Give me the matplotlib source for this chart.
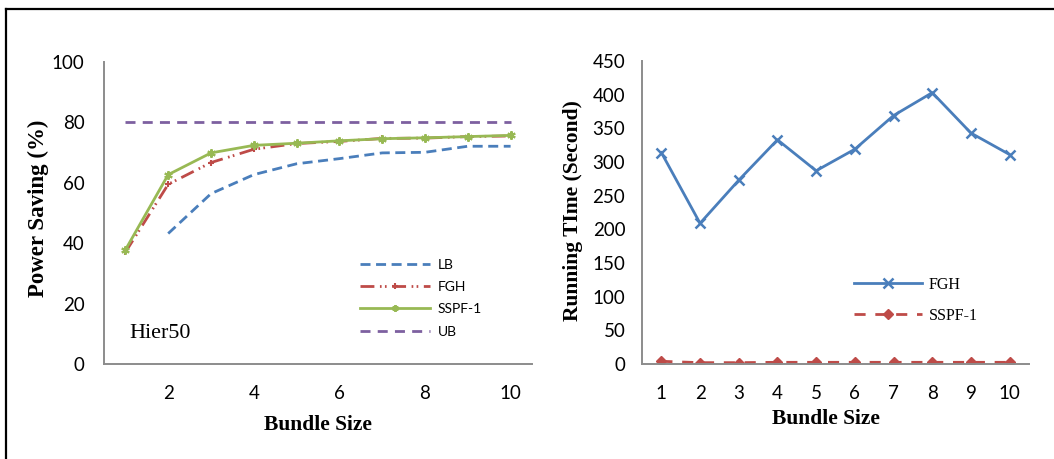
import matplotlib
matplotlib.use("Agg")
import matplotlib.pyplot as plt
from matplotlib.lines import Line2D

# Bundle sizes
bundle = [1, 2, 3, 4, 5, 6, 7, 8, 9, 10]

# Power saving (%) for Hier50
lb_x = [2, 3, 4, 5, 6, 7, 8, 9, 10]
lb = [43.2, 56.4, 62.7, 66.3, 68.0, 69.9, 70.1, 72.1, 72.1]
fgh_saving = [37.0, 59.5, 66.7, 71.1, 73.0, 73.7, 74.7, 74.8, 75.3, 75.5]
sspf_saving = [37.8, 62.7, 69.9, 72.4, 73.1, 73.9, 74.6, 74.9, 75.3, 75.7]
ub = [80] * 10

# Running time (seconds)
fgh_time = [314, 209, 273, 333, 287, 319, 369, 403, 343, 311]
sspf_time = [4, 2, 2, 2.5, 2.5, 2.5, 2.5, 2.5, 2.5, 2.5]

left_xticks = [2, 4, 6, 8, 10]
left_yticks = [0, 20, 40, 60, 80, 100]
right_xticks = bundle
right_yticks = [0, 50, 100, 150, 200, 250, 300, 350, 400, 450]

BLUE = "#4A7EBB"
RED = "#BE4B48"
GREEN = "#98B954"
PURPLE = "#7D60A0"
SPINE = "#8C8C8C"

SANS = ["Lato", "DejaVu Sans"]
SERIF = ["Liberation Serif", "DejaVu Serif"]
TICK_SIZE = 13.5

fig = plt.figure(figsize=(10.54, 4.59), dpi=100)

# Outer frame lines (left and top)
fig.add_artist(Line2D([6 / 1054, 6 / 1054], [0, 1 - 9 / 459], transform=fig.transFigure,
                      color="black", lw=1.6))
fig.add_artist(Line2D([6 / 1054, 1], [1 - 9 / 459, 1 - 9 / 459], transform=fig.transFigure,
                      color="black", lw=1.6))

ax1 = fig.add_axes([104 / 1054, 1 - 364 / 459, (532 - 104) / 1054, (364 - 62) / 459])
ax2 = fig.add_axes([642 / 1054, 1 - 364 / 459, (1029 - 642) / 1054, (364 - 61) / 459])

for ax in (ax1, ax2):
    for s in ("top", "right"):
        ax.spines[s].set_visible(False)
    for s in ("left", "bottom"):
        ax.spines[s].set_color(SPINE)
        ax.spines[s].set_linewidth(1.4)
    ax.tick_params(axis="x", length=0, pad=15)

# Left panel: power saving
ax1.plot(lb_x, lb, color=BLUE, lw=2.0, linestyle=(0, (3.6, 2.0)), label="LB")
ax1.plot(bundle, fgh_saving, color=RED, lw=2.0, linestyle=(0, (5, 2, 0.6, 1.2, 0.6, 2)),
         marker="+", markersize=5, markeredgewidth=1.5, label="FGH")
ax1.plot(bundle, sspf_saving, color=GREEN, lw=2.0, marker=(6, 2, 0), markersize=6,
         markeredgewidth=1.5, label="SSPF-1")
ax1.plot(bundle, ub, color=PURPLE, lw=2.0, linestyle=(0, (3.6, 2.6)), label="UB")
ax1.set_xlim(0.5, 10.5)
ax1.set_ylim(0, 100)
ax1.set_xticks(left_xticks)
ax1.set_yticks(left_yticks)
ax1.set_xticklabels([str(v) for v in left_xticks], family=SANS, fontsize=TICK_SIZE)
ax1.set_yticklabels([str(v) for v in left_yticks], family=SANS, fontsize=TICK_SIZE)
ax1.tick_params(axis="y", length=0, pad=14)
ax1.set_xlabel("Bundle Size", family=SERIF, fontweight="bold", fontsize=15.5, va="center")
ax1.xaxis.set_label_coords(0.5, -0.202)
ax1.set_ylabel("Power Saving (%)", family=SERIF, fontweight="bold", fontsize=16.5,
               va="center")
ax1.yaxis.set_label_coords(-0.154, 0.517)
ax1.text(0.06, 0.1, "Hier50", transform=ax1.transAxes, family=SERIF, fontsize=15.8,
         va="center", ha="left")
ax1.legend(loc="center left", bbox_to_anchor=(0.57, 0.218), frameon=False,
           prop={"family": SANS, "size": 10}, handlelength=5.0, labelspacing=0.74,
           handletextpad=0.55, markerscale=0.8)

# Right panel: running time
ax2.plot(bundle, fgh_time, color=BLUE, lw=2.0, marker="x", markersize=7,
         markeredgewidth=1.8, label="FGH")
ax2.plot(bundle, sspf_time, color=RED, lw=2.0, linestyle=(0, (4, 3.5)), marker="D",
         markersize=5, label="SSPF-1")
ax2.set_xlim(0.5, 10.5)
ax2.set_ylim(0, 450)
ax2.set_xticks(right_xticks)
ax2.set_yticks(right_yticks)
ax2.set_xticklabels([str(v) for v in right_xticks], family=SANS, fontsize=TICK_SIZE)
ax2.set_yticklabels([str(v) for v in right_yticks], family=SANS, fontsize=TICK_SIZE)
ax2.tick_params(axis="y", length=0, pad=12)
ax2.set_xlabel("Bundle Size", family=SERIF, fontweight="bold", fontsize=15.5, va="center")
ax2.xaxis.set_label_coords(0.475, -0.1815)
ax2.set_ylabel("Running TIme (Second)", family=SERIF, fontweight="bold", fontsize=15.5,
               va="center")
ax2.yaxis.set_label_coords(-0.178, 0.505)
ax2.legend(loc="center left", bbox_to_anchor=(0.51, 0.21), frameon=False,
           prop={"family": SERIF, "size": 11.5}, handlelength=4.25, labelspacing=0.95,
           handletextpad=0.45)

fig.savefig("out.png", dpi=100)
